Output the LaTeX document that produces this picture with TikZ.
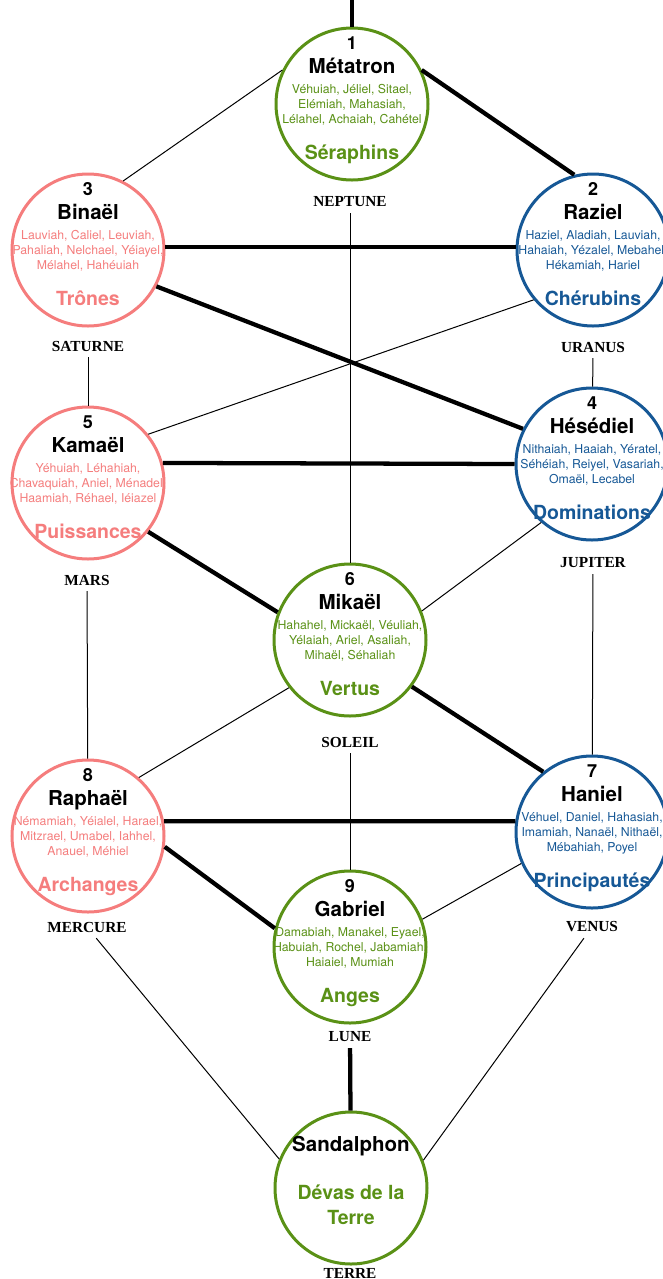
\documentclass[tikz,border=0pt]{standalone}
\usepackage{fontspec}
\usepackage{tikz}
\usetikzlibrary{positioning}
\setmainfont{TeX Gyre Heros}
\newfontfamily\planetfont{Liberation Serif}

\definecolor{sgreen}{RGB}{90,145,22}
\definecolor{spink}{RGB}{245,125,125}
\definecolor{sblue}{RGB}{22,88,150}

\newcommand{\numf}{\bfseries\fontsize{13.5}{13.5}\selectfont}
\newcommand{\namef}{\bfseries\fontsize{15.4}{15.4}\selectfont}
\newcommand{\listf}{\fontsize{9.2}{11.25}\selectfont}
\newcommand{\ordf}{\bfseries\fontsize{14.6}{14.6}\selectfont}
\newcommand{\ctline}[1]{\smash{\makebox[0pt]{#1}}}
\newcommand{\angeltext}[6]{\ctline{\numf\color{black}#1}\\[6.75pt]%
  \ctline{\namef\color{black}#2}\\[3.75pt]\ctline{#3}\\\ctline{#4}\\\ctline{#5}\\[15.75pt]%
  \ctline{\ordf #6}}

\begin{document}
\begin{tikzpicture}[x=0.75pt,y=-0.75pt,
	cstyle/.style={circle, draw=#1, text=#1, fill=white, line width=2.25pt,
	minimum size=114pt, inner sep=0pt, align=center, font=\listf},
	pstyle/.style={font=\planetfont\bfseries\fontsize{11.5}{11.5}\selectfont,
	inner sep=4.5pt, outer sep=0pt},
	thickline/.style={line width=3.2pt},
	thinline/.style={line width=0.75pt}
	]
	\useasboundingbox (0,0) rectangle (662,1279);

	% the circles
	\node[cstyle=sgreen] (n1) at (352,104) {\angeltext{1}{Métatron}{Véhuiah, Jéliel, Sitael,}{Elémiah, Mahasiah,}{Lélahel, Achaiah, Cahétel}{Séraphins}};
	\node[cstyle=sblue] (n2) at (593,250) {\angeltext{2}{Raziel}{Haziel, Aladiah, Lauviah,}{Hahaiah, Yézalel, Mebahel,}{Hékamiah, Hariel}{Chérubins}};
	\node[cstyle=spink] (n3) at (88,250) {\angeltext{3}{Binaël}{Lauviah, Caliel, Leuviah,}{Pahaliah, Nelchael, Yéiayel,}{Mélahel, Hahéuiah}{Trônes}};
	\node[cstyle=sblue] (n4) at (592,464) {\angeltext{4}{Hésédiel}{Nithaiah, Haaiah, Yératel,}{Séhéiah, Reiyel, Vasariah,}{Omaël, Lecabel}{Dominations}};
	\node[cstyle=spink] (n5) at (88,483) {\angeltext{5}{Kamaël}{Yéhuiah, Léhahiah,}{Chavaquiah, Aniel, Ménadel,}{Haamiah, Réhael, Iéiazel}{Puissances}};
	\node[cstyle=sgreen] (n6) at (350,640) {\angeltext{6}{Mikaël}{Hahahel, Mickaël, Véuliah,}{Yélaiah, Ariel, Asaliah,}{Mihaël, Séhaliah}{Vertus}};
	\node[cstyle=sblue] (n7) at (592,832) {\angeltext{7}{Haniel}{Véhuel, Daniel, Hahasiah,}{Imamiah, Nanaël, Nithaël,}{Mébahiah, Poyel}{Principautés}};
	\node[cstyle=spink] (n8) at (88,836) {\angeltext{8}{Raphaël}{Némamiah, Yéialel, Harael,}{Mitzrael, Umabel, Iahhel,}{Anauel, Méhiel}{Archanges}};
	\node[cstyle=sgreen] (n9) at (350,947) {\angeltext{9}{Gabriel}{Damabiah, Manakel, Eyael,}{Habuiah, Rochel, Jabamiah,}{Haiaiel, Mumiah}{Anges}};
	\node[cstyle=sgreen] (n0) at (351,1188) {\ctline{\namef\color{black}Sandalphon}\\[24.75pt]\ctline{\ordf Dévas de la}\\[7.5pt]\ctline{\ordf Terre}};

	% the planets
	\node[pstyle] (neptune) at (350,202) {NEPTUNE};
	\node[pstyle] (saturne) at (88,346) {SATURNE};
	\node[pstyle] (uranus) at (593,347) {URANUS};
	\node[pstyle] (mars) at (87,580) {MARS};
	\node[pstyle] (jupiter) at (593,563) {JUPITER};
	\node[pstyle] (soleil) at (350,742) {SOLEIL};
	\node[pstyle] (mercure) at (87,927) {MERCURE};
	\node[pstyle] (venus) at (592,927) {VENUS};
	\node[pstyle] (lune) at (350,1037) {LUNE};
	\node[pstyle] (terre) at (350,1273) {TERRE};

	\coordinate (top) at (352,0);

	% the paths
	\draw[thickline] (top) to (n1);
	\draw[thickline] (n1.26) to (n2.104);
	\draw[thinline] (n1.154) to (n3.63);
	\draw[thinline] (neptune) to (n6);
	\draw[thickline] (n3.2) to (n2.178);
	\draw[thickline] (n3.332) to (n4.153);
	\draw[thinline] (n2.220) to (n5.39);
	\draw[thinline] (saturne) to (n5);
	\draw[thinline] (uranus) to (n4);
	\draw[thickline] (n5.15) to (n4.180);
	\draw[thickline] (n5.321) to (n6.159);
	\draw[thinline] (n4.229) to (n6.22);
	\draw[thinline] (mars) to (n8);
	\draw[thinline] (jupiter) to (n7);
	\draw[thinline] (n6.218) to (n8.49);
	\draw[thickline] (n6.323) to (n7.129);
	\draw[thinline] (soleil) to (n9);
	\draw[thickline] (n8.11) to (n7.172);
	\draw[thickline] (n8.352) to (n9.166);
	\draw[thinline] (n7.204) to (n9.21);
	\draw[thickline] (lune) to (n0);
	\draw[thinline] (mercure) to (n0.158);
	\draw[thinline] (venus) to (n0.21);
\end{tikzpicture}
\end{document}
